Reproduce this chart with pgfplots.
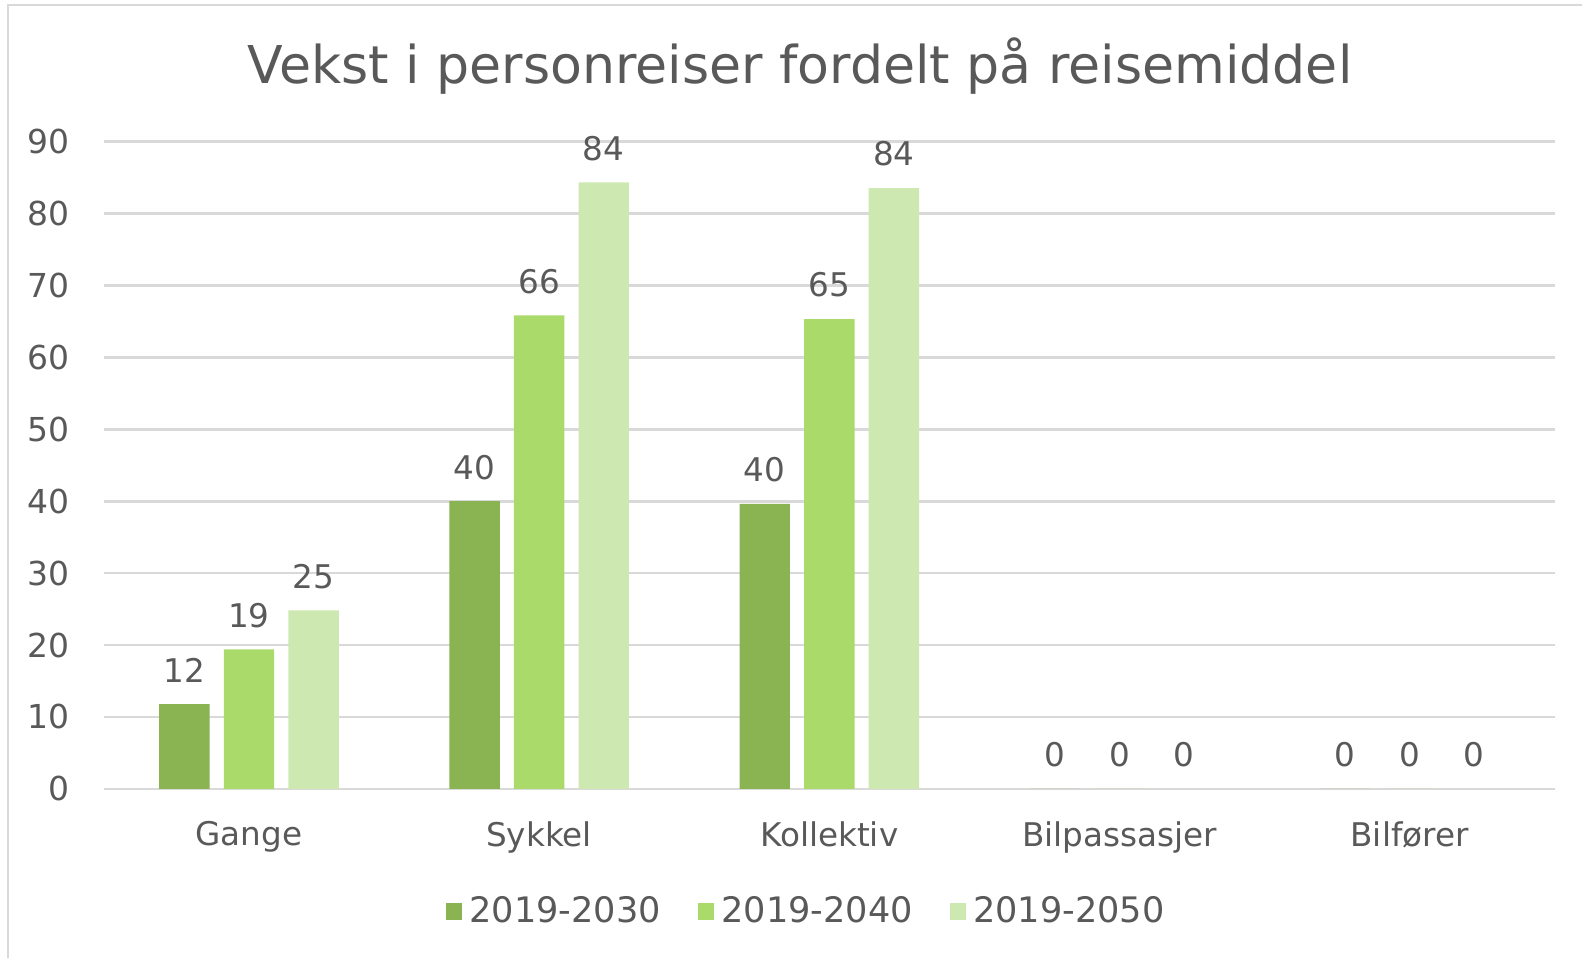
\documentclass[border=0pt]{standalone}
\usepackage{fontspec}
\setmainfont{DejaVu Sans}
\usepackage{pgfplots}
\pgfplotsset{compat=1.18}

\definecolor{txt}{HTML}{595959}
\definecolor{gridc}{HTML}{D9D9D9}
\definecolor{gA}{HTML}{8AB352}
\definecolor{gB}{HTML}{AADB6A}
\definecolor{gC}{HTML}{CEE8B2}

\begin{document}
\begin{tikzpicture}
% fixed canvas, 1px = 0.01cm
\path[fill=white] (0,0) rectangle (15.68,9.50);
\draw[gridc, line width=0.6pt] (0.08,0) -- (0.08,9.45) -- (15.68,9.45);

\node[text=txt, font=\fontsize{14.7}{18}\selectfont] at (7.93,8.85)
  {Vekst i personreiser fordelt på reisemiddel};

\begin{axis}[
  at={(1.03cm,1.68cm)}, anchor=south west,
  scale only axis, width=14.38cm, height=6.42cm,
  ybar=0.14cm, bar width=0.50cm,
  xmin=-0.5, xmax=4.5, ymin=0, ymax=90,
  xtick={0,1,2,3,4},
  xticklabels={Gange, Sykkel, Kollektiv, Bilpassasjer, Bilfører},
  ytick={0,10,...,90},
  axis x line*=bottom, axis y line*=left,
  x axis line style={gridc, line width=0.8pt},
  y axis line style={draw=none},
  major tick length=0pt,
  ymajorgrids, grid style={gridc, line width=0.8pt},
  yticklabel style={text=txt, font=\fontsize{9.3}{11}\selectfont, xshift=-0.22cm},
  xticklabel style={text=txt, font=\fontsize{9.2}{11}\selectfont, yshift=-0.2cm},
  /pgf/number format/assume math mode=true,
  nodes near coords,
  nodes near coords style={text=txt, font=\fontsize{9.2}{11}\selectfont,
    yshift=0.09cm,
    /pgf/number format/fixed, /pgf/number format/precision=0},
  legend style={at={(0.486,-0.19)}, anchor=center, draw=none,
    legend columns=3, font=\fontsize{9.9}{12}\selectfont, text=txt,
    /tikz/every even column/.append style={column sep=0.3cm}},
  legend image code/.code={\fill[#1] (0cm,-0.08cm) rectangle (0.16cm,0.09cm);},
]
\addplot[fill=gA, draw=none] coordinates {(0,11.8) (1,40.0) (2,39.6) (3,0) (4,0)};
\addlegendentry{2019-2030}
\addplot[fill=gB, draw=none] coordinates {(0,19.4) (1,65.8) (2,65.3) (3,0) (4,0)};
\addlegendentry{2019-2040}
\addplot[fill=gC, draw=none] coordinates {(0,24.8) (1,84.3) (2,83.5) (3,0) (4,0)};
\addlegendentry{2019-2050}
\end{axis}
\end{tikzpicture}
\end{document}
